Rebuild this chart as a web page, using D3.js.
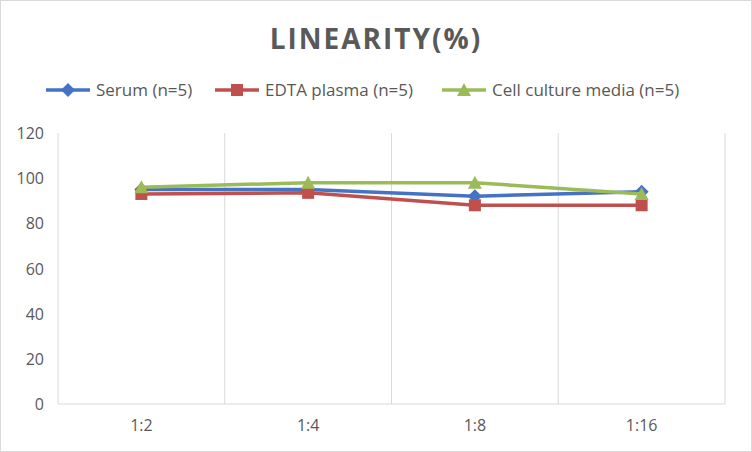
<!DOCTYPE html><html><head><script src="https://d3js.org/d3.v7.min.js"></script>
<style>body{margin:0;background:#fff}</style></head><body><svg id="c" width="752" height="452"></svg>
<script>
const categories=["1:2","1:4","1:8","1:16"];
const serum=[95,95,92,94];
const edta=[93,93.5,88,88];
const cell=[96,98,98,93];
const yTicks=[0,20,40,60,80,100,120];
const series=[{name:"Serum (n=5)",vals:serum,color:"#4472C4",shape:"diamond"},
{name:"EDTA plasma (n=5)",vals:edta,color:"#C0504D",shape:"square"},
{name:"Cell culture media (n=5)",vals:cell,color:"#9BBB59",shape:"triangle"}];
const svg=d3.select("#c");
svg.append("rect").attr("x",0.5).attr("y",0.5).attr("width",751).attr("height",451).attr("fill","#fff").attr("stroke","#d9d9d9");
const x=d3.scaleBand().domain(categories).range([58,725]);
const y=d3.scaleLinear().domain([0,120]).range([404,133]);
const font="'Open Sans', 'Liberation Sans', sans-serif";
const bounds=[58,...categories.map(c=>x(c)+x.bandwidth())];
svg.selectAll(".g").data(bounds).enter().append("line").attr("x1",d=>d).attr("x2",d=>d).attr("y1",133).attr("y2",404).attr("stroke","#d9d9d9");
svg.append("line").attr("x1",58).attr("x2",725).attr("y1",404).attr("y2",404).attr("stroke","#d9d9d9");
svg.selectAll(".yt").data(yTicks).enter().append("text").attr("x",44).attr("y",d=>y(d)+6).attr("text-anchor","end").attr("font-size",16).attr("fill","#595959").attr("font-family",font).text(d=>d);
svg.selectAll(".xt").data(categories).enter().append("text").attr("x",d=>x(d)+x.bandwidth()/2).attr("y",431).attr("text-anchor","middle").attr("font-size",16).attr("fill","#595959").attr("font-family",font).text(d=>d);
svg.append("text").attr("x",376).attr("y",49).attr("text-anchor","middle").attr("font-size",28).attr("font-weight","bold").attr("letter-spacing",2).attr("fill","#595959").attr("font-family",font).text("LINEARITY(%)");
function marker(g,shape,cx,cy,color){
 if(shape==="diamond")g.append("path").attr("d",`M${cx},${cy-7}L${cx+7},${cy}L${cx},${cy+7}L${cx-7},${cy}Z`).attr("fill",color);
 else if(shape==="square")g.append("rect").attr("x",cx-6).attr("y",cy-6).attr("width",12).attr("height",12).attr("fill",color);
 else g.append("path").attr("d",`M${cx},${cy-7}L${cx+7},${cy+6}L${cx-7},${cy+6}Z`).attr("fill",color);
}
const line=d3.line().x((d,i)=>x(categories[i])+x.bandwidth()/2).y(d=>y(d));
series.forEach(s=>{
 const g=svg.append("g");
 g.append("path").attr("d",line(s.vals)).attr("fill","none").attr("stroke",s.color).attr("stroke-width",3.5);
 s.vals.forEach((v,i)=>marker(g,s.shape,x(categories[i])+x.bandwidth()/2,y(v),s.color));
});
const lx=[46,215,442];
series.forEach((s,i)=>{
 const g=svg.append("g");
 g.append("line").attr("x1",lx[i]).attr("x2",lx[i]+44).attr("y1",90).attr("y2",90).attr("stroke",s.color).attr("stroke-width",3.5);
 marker(g,s.shape,lx[i]+22,90,s.color);
 g.append("text").attr("x",lx[i]+50).attr("y",96).attr("font-size",17).attr("fill","#595959").attr("font-family",font).text(s.name);
});
</script></body></html>
